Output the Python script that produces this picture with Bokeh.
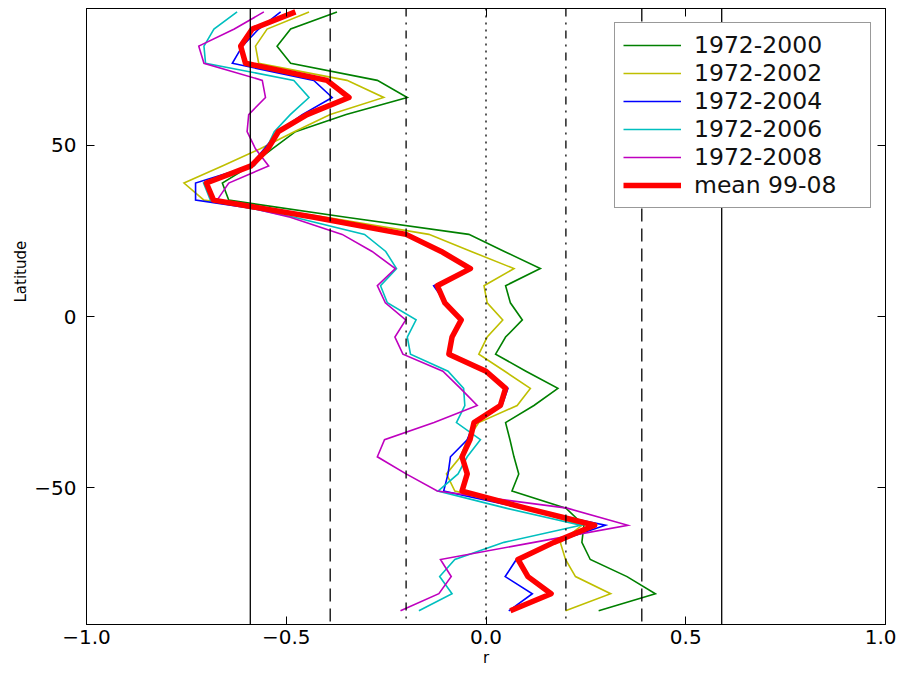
from bokeh.plotting import figure
from bokeh.models import Range1d, LinearAxis, FixedTicker, Span, Legend, LegendItem, Title
from bokeh.embed import file_html
from bokeh.resources import INLINE

lat = [89, 84, 79, 74, 69, 64, 59, 54, 49, 44, 39, 34, 29, 24, 19, 14, 9, 4,
       -1, -6, -11, -16, -21, -26, -31, -36, -41, -46, -51, -56, -61, -66, -71, -76, -81, -86]

r_1972_2000 = [-0.373, -0.489, -0.523, -0.489, -0.272, -0.197, -0.35, -0.477, -0.535, -0.59, -0.66, -0.644,
               -0.35, -0.043, 0.046, 0.136, 0.049, 0.061, 0.091, 0.049, 0.024, 0.10, 0.18, 0.12,
               0.049, 0.06, 0.07, 0.082, 0.065, 0.20, 0.245, 0.24, 0.261, 0.353, 0.424, 0.282]
r_1972_2002 = [-0.443, -0.548, -0.577, -0.569, -0.348, -0.256, -0.39, -0.48, -0.565, -0.66, -0.756, -0.706,
               -0.40, -0.143, -0.037, 0.07, -0.005, 0.003, 0.042, 0.003, -0.018, 0.047, 0.111, 0.078,
               -0.018, -0.047, -0.064, -0.099, -0.078, 0.10, 0.24, 0.186, 0.199, 0.224, 0.312, 0.199]
r_1972_2004 = [-0.514, -0.569, -0.61, -0.635, -0.431, -0.385, -0.46, -0.52, -0.555, -0.59, -0.727, -0.727,
               -0.43, -0.2, -0.11, -0.039, -0.131, -0.101, -0.06, -0.085, -0.093, 0.003, 0.055, 0.04,
               -0.03, -0.047, -0.089, -0.095, -0.106, 0.09, 0.299, 0.17, 0.076, 0.048, 0.116, 0.057]
r_1972_2006 = [-0.623, -0.681, -0.706, -0.702, -0.481, -0.443, -0.49, -0.53, -0.55, -0.58, -0.707, -0.69,
               -0.48, -0.304, -0.251, -0.224, -0.264, -0.247, -0.175, -0.197, -0.189, -0.095, -0.056, -0.053,
               -0.074, -0.014, -0.047, -0.07, -0.12, 0.05, 0.237, 0.045, -0.078, -0.116, -0.085, -0.168]
r_1972_2008 = [-0.556, -0.63, -0.719, -0.706, -0.56, -0.552, -0.594, -0.598, -0.577, -0.544, -0.644, -0.673,
               -0.49, -0.36, -0.285, -0.227, -0.272, -0.252, -0.201, -0.228, -0.208, -0.108, -0.064, -0.022,
               -0.13, -0.254, -0.272, -0.20, -0.122, 0.203, 0.355, 0.12, -0.114, -0.087, -0.118, -0.214]
r_mean_99_08 = [-0.477, -0.585, -0.614, -0.602, -0.398, -0.343, -0.448, -0.52, -0.546, -0.588, -0.70, -0.682,
                -0.43, -0.2, -0.112, -0.039, -0.122, -0.103, -0.062, -0.085, -0.093, 0.0, 0.049, 0.036,
                -0.03, -0.04, -0.06, -0.047, -0.06, 0.10, 0.272, 0.17, 0.08, 0.105, 0.163, 0.061]

series_labels = ["1972-2000", "1972-2002", "1972-2004", "1972-2006", "1972-2008", "mean 99-08"]
series_values = [r_1972_2000, r_1972_2002, r_1972_2004, r_1972_2006, r_1972_2008, r_mean_99_08]
series_colors = ["#008000", "#bfbf00", "#0000ff", "#00bfbf", "#bf00bf", "#ff0000"]
series_widths = [1.6, 1.6, 1.6, 1.6, 1.6, 5.5]

# significance reference lines (r values)
ref_solid = [-0.59, 0.59]
ref_dashed = [-0.39, 0.39]
ref_dashdot = [-0.2, 0.2]
ref_dotted = [0.0]

x_ticks = [-1.0, -0.5, 0.0, 0.5, 1.0]
x_tick_labels = ["\u22121.0", "\u22120.5", "0.0", "0.5", "1.0"]
y_ticks = [-50, 0, 50]
y_tick_labels = ["\u221250", "0", "50"]

FONT = "DejaVu Sans"

p = figure(width=896, height=672, x_range=Range1d(-1, 1), y_range=Range1d(-90, 90),
           output_backend="svg", toolbar_location=None,
           min_border_left=86, min_border_right=11, min_border_top=8, min_border_bottom=48,
           x_axis_label="r")
p.background_fill_color = "white"
p.border_fill_color = "white"
p.outline_line_color = "black"
p.outline_line_width = 1
p.xgrid.visible = False
p.ygrid.visible = False

def style_axis(ax, ticks, labels, show_labels=True):
    ax.ticker = FixedTicker(ticks=ticks)
    ax.major_tick_in = 8
    ax.major_tick_out = 0
    ax.minor_tick_line_color = None
    ax.major_tick_line_color = "black"
    ax.axis_line_color = "black"
    ax.axis_label_text_font = FONT
    ax.axis_label_text_font_style = "normal"
    ax.axis_label_text_font_size = "15px"
    ax.axis_label_text_color = "black"
    ax.major_label_text_font = FONT
    if show_labels:
        ax.major_label_overrides = {t: l for t, l in zip(ticks, labels)}
        ax.major_label_text_font_size = "20px"
        ax.major_label_text_color = "black"
    else:
        ax.major_label_text_font_size = "1px"
        ax.major_label_text_color = None
        ax.major_label_text_alpha = 0
        ax.major_label_standoff = 0

style_axis(p.xaxis[0], x_ticks, x_tick_labels)
p.xaxis[0].major_label_standoff = 5
p.xaxis[0].axis_label_standoff = 2
style_axis(p.yaxis[0], y_ticks, y_tick_labels)
p.yaxis[0].major_label_standoff = 10

ax_top = LinearAxis()
style_axis(ax_top, x_ticks, x_tick_labels, show_labels=False)
p.add_layout(ax_top, "above")
ax_right = LinearAxis()
style_axis(ax_right, y_ticks, y_tick_labels, show_labels=False)
p.add_layout(ax_right, "right")

# y-axis title in its own left panel, shifted up as in the reference
p.add_layout(Title(text="Latitude", align="left", offset=322, standoff=4,
                   text_font=FONT, text_font_size="15px", text_font_style="normal",
                   text_color="black"), "left")

items = []
for lab, vals, col, w in zip(series_labels, series_values, series_colors, series_widths):
    r = p.line(vals, lat, line_color=col, line_width=w, line_join="miter" if w < 3 else "round")
    items.append(LegendItem(label=lab, renderers=[r]))

for v in ref_solid:
    p.add_layout(Span(location=v, dimension="height", line_color="black", line_width=1.3))
for v in ref_dashed:
    p.add_layout(Span(location=v, dimension="height", line_color="black", line_width=1.3, line_dash="13 7"))
for v in ref_dashdot:
    p.add_layout(Span(location=v, dimension="height", line_color="black", line_width=1.3, line_dash="8 6 2 6"))
for v in ref_dotted:
    p.add_layout(Span(location=v, dimension="height", line_color="black", line_width=1.3, line_dash="2 5"))

legend = Legend(items=items, location="top_right")
legend.margin = 14
legend.padding = 8
legend.spacing = 0
legend.glyph_width = 58
legend.glyph_height = 20
legend.label_standoff = 13
legend.label_width = 168
legend.label_height = 26
legend.label_text_font = FONT
legend.label_text_font_size = "23.5px"
legend.label_text_color = "#111111"
legend.border_line_color = "#333333"
legend.border_line_width = 1.2
legend.background_fill_alpha = 1.0
p.add_layout(legend)

open("out.html", "w").write(file_html(p, INLINE))
